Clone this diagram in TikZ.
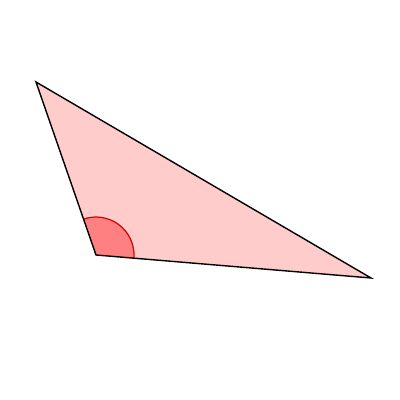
\documentclass[tikz,border=0pt]{standalone}
\usetikzlibrary{angles}
\tikzset{
    tri face/.style={
        fill=red!20,
        draw=none,
    },
    tri edge/.style={
        draw=black,
        line width=0.8pt,
        line join=miter,
    },
    angle mark/.style={
        fill=red!50,
        draw=red!85!black,
        line width=0.7pt,
        angle radius=0.76cm,
    },
}
\begin{document}
\begin{tikzpicture}
\useasboundingbox (0,0) rectangle (8,8);
\coordinate (A) at (0.72, 6.36);
\coordinate (B) at (1.92, 2.90);
\coordinate (C) at (7.42, 2.44);

\path[tri face] (A) -- (B) -- (C) -- cycle;
\pic[angle mark] {angle = C--B--A};
\draw[tri edge] (A) -- (B) -- (C) -- cycle;
\end{tikzpicture}
\end{document}
